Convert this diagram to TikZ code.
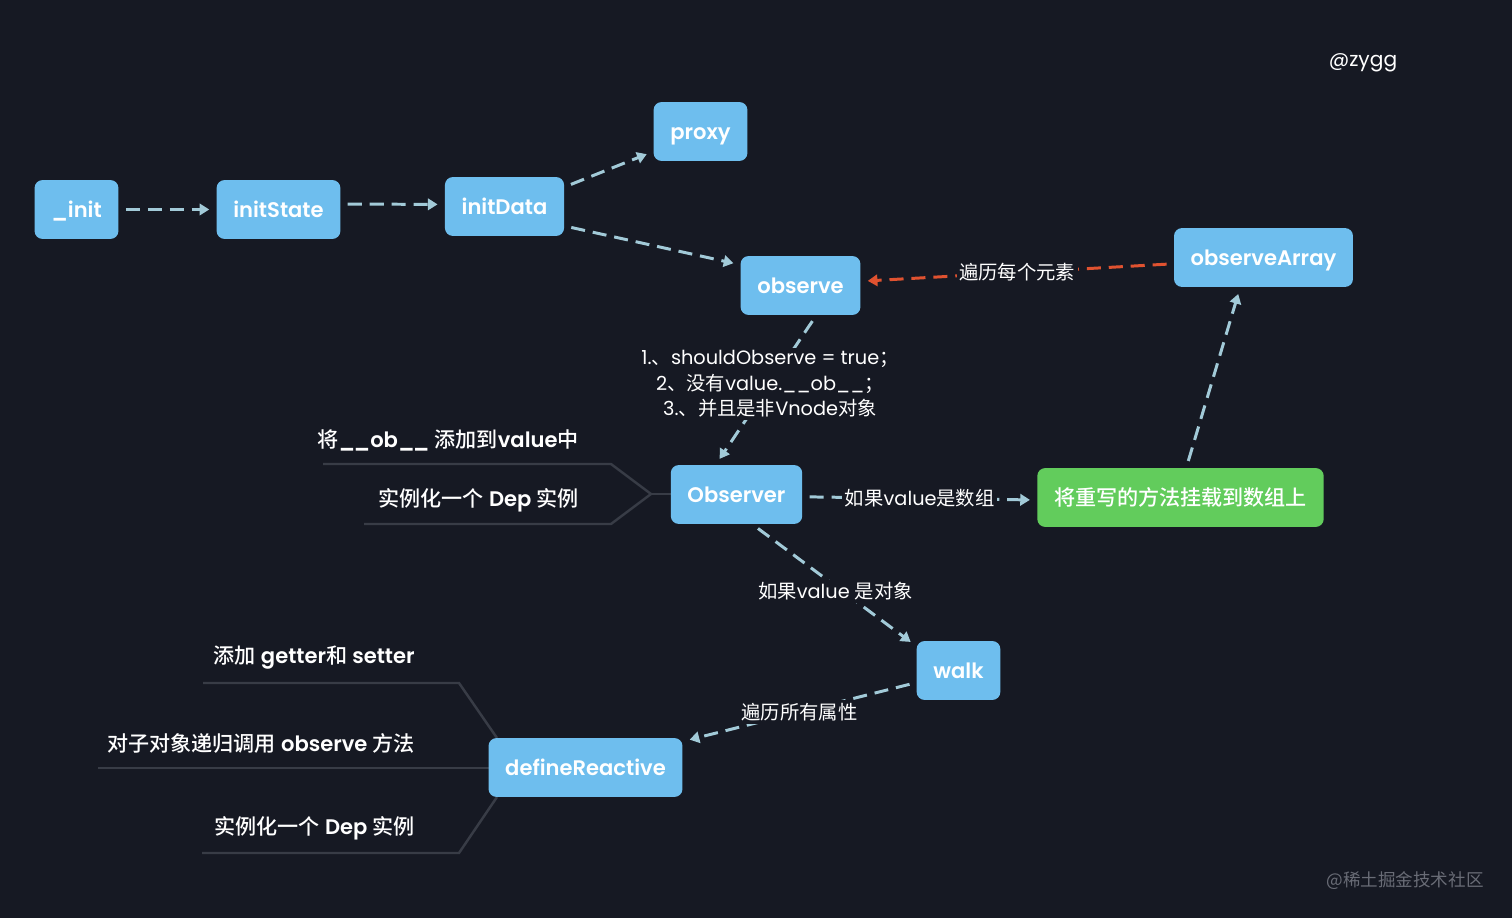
\documentclass[tikz,border=0pt]{standalone}
\usepackage{fontspec}
\setmainfont{Poppins}[BoldFont={Poppins SemiBold}]
\newfontfamily\cjk{Noto Sans CJK SC}[BoldFont={Noto Sans CJK SC Medium}]
\usetikzlibrary{arrows.meta,calc}

\definecolor{bg}{RGB}{22,25,35}
\definecolor{boxblue}{RGB}{110,190,238}
\definecolor{boxgreen}{RGB}{98,204,92}
\definecolor{flowline}{RGB}{162,202,216}
\definecolor{arrred}{RGB}{224,82,48}
\definecolor{branchgray}{RGB}{56,60,70}
\definecolor{wmgray}{RGB}{105,108,118}

\newcommand\zh[1]{{\cjk #1}}

\begin{document}
\begin{tikzpicture}[x=0.02cm,y=-0.02cm,
    box/.style={fill=boxblue,rounded corners=4.5pt,minimum height=33.5pt,inner xsep=9.5pt,
        text height=8.6pt,text depth=0pt,text=white,font=\bfseries\fontsize{12}{14}\selectfont},
    flow/.style={draw=flowline,line width=1.7pt,dash pattern=on 8pt off 4.5pt,
        -{Triangle[length=5.5pt,width=6.5pt]},shorten <=4pt,shorten >=4pt},
    elabel/.style={fill=bg,text=white,inner sep=1.5pt,font=\fontsize{11}{14.5}\selectfont},
    branch/.style={draw=branchgray,line width=1.4pt},
    leaf/.style={text=white,inner sep=0pt,font=\bfseries\fontsize{12}{14}\selectfont}]

    \fill[bg] (0,0) rectangle (1512,918);

    %branches
    \draw[branch] (651,494) coordinate (obfork) -- ++(-40,-30) -- ++(-288,0);
    \draw[branch] (obfork) -- ++(-40,30) -- ++(-247,0);
    \draw[branch] (obfork) -- (671,494);
    \draw[branch] (497,738) -- ++(-38,-55) -- ++(-256,0);
    \draw[branch] (489,768) -- ++(-391,0);
    \draw[branch] (497,797) -- ++(-38,56) -- ++(-257,0);

    %boxes
    \node[box] (init) at (76.5,209.5) {\_init};
    \node[box] (initState) at (278.5,209.5) {initState};
    \node[box] (initData) at (504.5,206.5) {initData};
    \node[box] (proxy) at (700.5,131.5) {proxy};
    \node[box] (observe) at (800.5,285.5) {observe};
    \node[box] (observeArray) at (1263.5,257.5) {observeArray};
    \node[box] (Observer) at (736.5,494.5) {Observer};
    \node[box,fill=boxgreen] (mount) at (1180.5,497.5) {\zh{将重写的方法挂载到数组上}};
    \node[box] (walk) at (958.5,670.5) {walk};
    \node[box] (defineReactive) at (585.5,767.5) {defineReactive};

    %flow
    \draw[flow] (init) -- (initState);
    \draw[flow] (initState.5) -- (initData.178);
    \draw[flow] (initData.18) -- (proxy.203);
    \draw[flow] (initData.-18) -- (observe.161);
    \draw[flow,draw=arrred] (observeArray.184) -- node[elabel]{\zh{遍历每个元素}} (observe.4);
    \draw[flow] (observe.-62) -- node[elabel,align=center,pos=.46]{1.\zh{、}shouldObserve = true\zh{；}\\
        2\zh{、没有}value.\_\_ob\_\_\zh{；}\\ 3.\zh{、并且是非}Vnode\zh{对象}} (Observer.125);
    \draw[flow] (Observer.-2) -- node[elabel]{\zh{如果}value\zh{是数组}} (mount.181);
    \draw[flow] (mount.79) -- (observeArray.232);
    \draw[flow] (Observer.-62) -- node[elabel,pos=.55,xshift=-4pt]{\zh{如果}value \zh{是对象}} (walk.150);
    \draw[flow] (walk.196) -- node[elabel]{\zh{遍历所有属性}} (defineReactive.15);

    %leaves
    \node[leaf,anchor=east] (obAdd) at (579,440) {\zh{将}\_\kern-1pt\_ob\_\kern-1pt\_ \zh{添加到}value\zh{中}};
    \node[leaf,anchor=east] (obDep) at (579,500) {\zh{实例化一个} Dep \zh{实例}};
    \node[leaf,anchor=east] (drGetter) at (415,658) {\zh{添加} getter\zh{和} setter};
    \node[leaf,anchor=east] (drChild) at (415,743) {\zh{对子对象递归调用} observe \zh{方法}};
    \node[leaf,anchor=east] (drDep) at (415,828) {\zh{实例化一个} Dep \zh{实例}};

    \node[text=white,font=\fontsize{11.5}{13}\selectfont] (author) at (1363,63) {@zygg};
    \node[text=wmgray,font=\cjk\fontsize{10}{12}\selectfont] (wm) at (1405,881) {@稀土掘金技术社区};

\end{tikzpicture}
\end{document}
